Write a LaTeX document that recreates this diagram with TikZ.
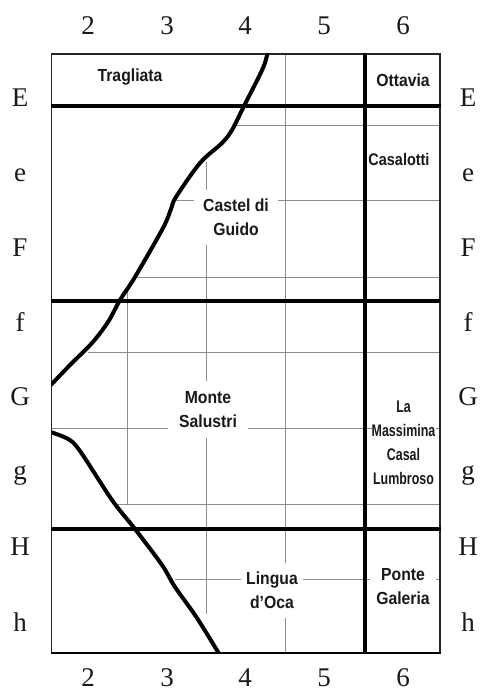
\documentclass[tikz,border=0pt]{standalone}
\usepackage{fontspec}
\setmainfont{Liberation Sans}
\newfontfamily\serf{Liberation Serif}
\newfontfamily\lab[BoldFont={Liberation Sans Bold},FakeStretch=0.9]{Liberation Sans}
\newfontfamily\labc[BoldFont={Liberation Sans Bold},FakeStretch=0.86]{Liberation Sans}
\newfontfamily\labn[BoldFont={Liberation Sans Bold},FakeStretch=0.74]{Liberation Sans}
\begin{document}
\begin{tikzpicture}[x=1pt,y=-1pt,
  gridline/.style={draw=black!45,line width=1pt},
  heavy/.style={draw=black,line width=4pt},
  river/.style={draw=black,line width=4pt,line cap=round},
  frameline/.style={draw=black!85,line width=1.1pt},
  tick/.style={font=\serf\fontsize{27}{27}\selectfont,inner sep=0pt,text=black!90},
  place/.style={font=\lab\bfseries\fontsize{17.5}{24}\selectfont,align=center,inner sep=0pt,text=black!90},
  placec/.style={font=\labc\bfseries\fontsize{16.8}{24}\selectfont,align=center,inner sep=0pt,text=black!90},
  placen/.style={font=\labn\bfseries\fontsize{16.8}{24}\selectfont,align=center,inner sep=0pt,text=black!90},
  gap/.style={fill=white}]
\useasboundingbox (0,0) rectangle (481,692);
% thin grid
\draw[gridline] (127.5,292) -- (127.5,505);
\draw[gridline] (206,162) -- (206,614);
\draw[gridline] (285,54) -- (285,653);
\draw[gridline] (235,125.5) -- (440,125.5);
\draw[gridline] (175,201) -- (440,201);
\draw[gridline] (135,277) -- (440,277);
\draw[gridline] (88,352) -- (440,352);
\draw[gridline] (51.5,428) -- (440,428);
\draw[gridline] (118,504) -- (440,504);
\draw[gridline] (175,579) -- (440,579);
% place names
\node[place] (trag) at (130,77) {Tragliata};
\node[place] (otta) at (403,80) {Ottavia};
\node[placec] (casa) at (399,159) {Casalotti};
\node[place,gap,minimum width=84pt,minimum height=55pt] (cast) at (236,217.5) {Castel di\\Guido};
\node[place,gap,minimum width=80pt,minimum height=57pt] (mont) at (208,409.5) {Monte\\Salustri};
\node[place,gap,minimum width=62pt,minimum height=55pt] (ling) at (272,590.5) {Lingua\\d’Oca};
\node[placen,gap,minimum width=64pt,minimum height=100pt] (mass) at (403.5,442.5) {La\\Massimina\\Casal\\Lumbroso};
\node[place,gap,minimum width=66pt,minimum height=52pt] (pont) at (403,587) {Ponte\\Galeria};
% frame
\draw[frameline] (51.5,54) rectangle (440,653);
\draw[draw=black,line width=2pt] (51,653) -- (440.5,653);
% heavy lines
\draw[heavy] (51,106) -- (441,106);
\draw[heavy] (51,300.5) -- (440,300.5);
\draw[heavy] (51,529) -- (441,529);
\draw[heavy] (364.5,53.5) -- (364.5,654);
% curves
\begin{scope}
\clip (51.5,54) rectangle (441,653);
\draw[river] plot[smooth,tension=0.55] coordinates {(268,50) (263,68) (244,106) (232,130) (222,143) (200,163) (176,197) (171,209) (163,228) (135,277) (120,300) (108,322) (92,343) (70,365) (49,387)};
\draw[river] plot[smooth,tension=0.55] coordinates {(49,431.5) (68,439) (80,451) (112,500) (135,529) (162,565) (175,587) (197,618) (221,657)};
\end{scope}
% ticks
\foreach \n/\lbl/\xx in {a/2/88,b/3/167,c/4/245,d/5/324,e/6/403}{
  \node[tick] (top\n) at (\xx,26) {\lbl};
  \node[tick] (bot\n) at (\xx,678) {\lbl};
}
\foreach \n/\lbl/\yy in {a/E/98,b/e/175,c/F/248,d/f/322,e/G/397,f/g/475,g/H/547,h/h/622}{
  \node[tick] (left\n) at (20,\yy) {\lbl};
  \node[tick] (right\n) at (468,\yy) {\lbl};
}
\end{tikzpicture}
\end{document}
